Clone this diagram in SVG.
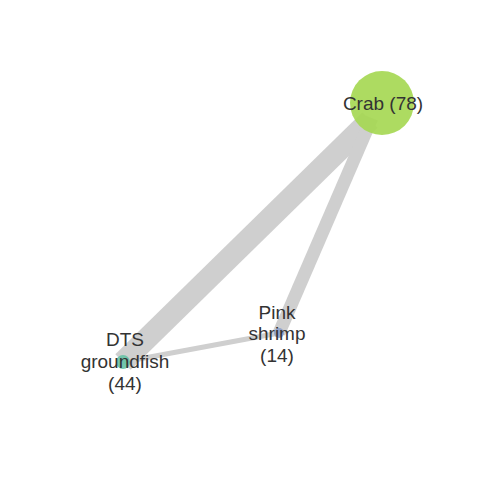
<svg xmlns="http://www.w3.org/2000/svg" width="480" height="480" viewBox="0 0 480 480">
<style>
.e{stroke:#cfcfcf;fill:none;stroke-linecap:butt}
.t{font-family:"Liberation Sans",Arial,sans-serif;font-size:19px;fill:#333333;text-anchor:middle}
</style>
<rect width="480" height="480" fill="#ffffff"/>
<g id="edges">
<line class="e" x1="370" y1="120" x2="123" y2="362" stroke-width="22"/>
<line class="e" x1="372" y1="118" x2="279" y2="333" stroke-width="13"/>
<line class="e" x1="123" y1="362" x2="279" y2="333" stroke-width="5"/>
</g>
<g id="crab">
<circle cx="382" cy="103" r="32" fill="#a6d854" fill-opacity="0.92"/>
<text class="t" x="383" y="110">Crab (78)</text>
</g>
<g id="dts">
<circle cx="123" cy="362" r="7" fill="#66c2a5" fill-opacity="0.9"/>
<text class="t" x="125" y="346">DTS</text>
<text class="t" x="125" y="368">groundfish</text>
<text class="t" x="125" y="390">(44)</text>
</g>
<g id="shrimp">
<circle cx="279" cy="333" r="5" fill="#8da0cb" fill-opacity="0.9"/>
<text class="t" x="277" y="319">Pink</text>
<text class="t" x="277" y="340">shrimp</text>
<text class="t" x="277" y="362">(14)</text>
</g>
</svg>
